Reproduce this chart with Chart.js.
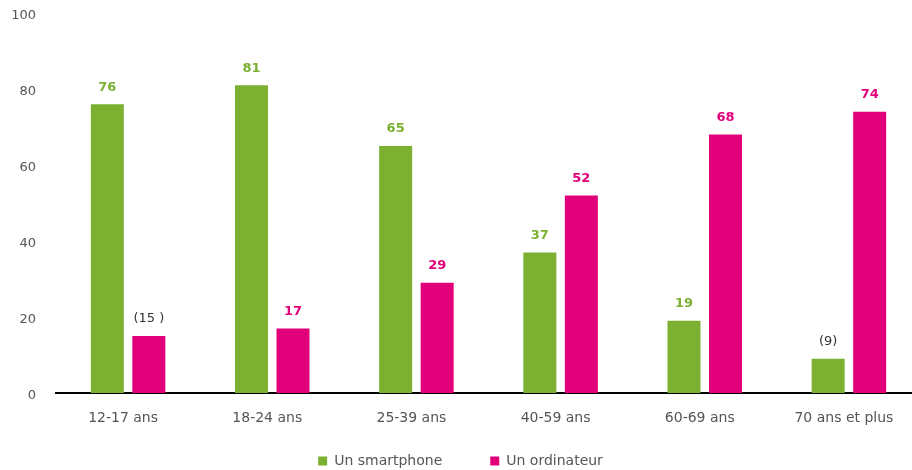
<!DOCTYPE html>
<html>
<head>
<meta charset="utf-8">
<script src="https://cdn.jsdelivr.net/npm/chart.js@4.4.0/dist/chart.umd.min.js"></script>
<style>
  html, body { margin: 0; padding: 0; background: #fff; overflow: hidden; }
  #wrap { width: 921px; height: 470px; }
</style>
</head>
<body>
<div id="wrap"><canvas id="chart" width="921" height="470"></canvas></div>
<script>
// Data
const categories = ['12-17 ans', '18-24 ans', '25-39 ans', '40-59 ans', '60-69 ans', '70 ans et plus'];
const smartphone = [76, 81, 65, 37, 19, 9];
const ordinateur = [15, 17, 29, 52, 68, 74];
// value labels as printed (parentheses = small sample)
const smartphoneLabels = ['76', '81', '65', '37', '19', '(9)'];
const ordinateurLabels = ['(15 )', '17', '29', '52', '68', '74'];
const yTicks = [0, 20, 40, 60, 80, 100];

const GREEN = '#7BB031';
const PINK = '#E2007A';
const FONT = "'DejaVu Sans', Verdana, sans-serif";

// draws the numbers above each bar
const valueLabels = {
  id: 'valueLabels',
  afterDatasetsDraw(chart) {
    const ctx = chart.ctx;
    ctx.save();
    ctx.textAlign = 'center';
    ctx.textBaseline = 'middle';
    chart.data.datasets.forEach((ds, i) => {
      const meta = chart.getDatasetMeta(i);
      meta.data.forEach((bar, j) => {
        const txt = ds.valueText[j];
        if (txt.startsWith('(')) {
          ctx.font = '13px ' + FONT;
          ctx.fillStyle = '#333';
        } else {
          ctx.font = 'bold 13px ' + FONT;
          ctx.fillStyle = ds.backgroundColor;
        }
        ctx.fillText(txt, bar.x, bar.y - 17);
      });
    });
    ctx.restore();
  }
};

new Chart(document.getElementById('chart').getContext('2d'), {
  type: 'bar',
  data: {
    labels: categories,
    datasets: [
      {
        label: 'Un smartphone',
        data: smartphone,
        valueText: smartphoneLabels,
        backgroundColor: GREEN,
        categoryPercentage: 0.576,
        barPercentage: 0.795
      },
      {
        label: 'Un ordinateur',
        data: ordinateur,
        valueText: ordinateurLabels,
        backgroundColor: PINK,
        categoryPercentage: 0.576,
        barPercentage: 0.795
      }
    ]
  },
  options: {
    responsive: false,
    animation: false,
    layout: {
      padding: { top: 13, right: 0, left: 0, bottom: -8 }
    },
    plugins: {
      legend: {
        position: 'bottom',
        labels: {
          boxWidth: 9,
          boxHeight: 9,
          padding: 48,
          color: '#555',
          font: { size: 14, family: FONT }
        }
      },
      tooltip: { enabled: false }
    },
    scales: {
      x: {
        grid: { display: false, drawTicks: false },
        border: { display: true, color: '#000', width: 2 },
        ticks: {
          color: '#555',
          mirror: true,   // avoids the label clip, labels sit below the axis via negative padding
          padding: -34,
          labelOffset: -5,
          autoSkip: false,
          maxRotation: 0,
          minRotation: 0,
          font: { size: 14, family: FONT }
        },
        afterFit(scale) { scale.height = 13; }
      },
      y: {
        min: 0,
        max: 100,
        grid: { display: false, drawTicks: false },
        border: { display: false },
        afterBuildTicks(scale) {
          scale.ticks = yTicks.map(v => ({ value: v }));
        },
        ticks: {
          color: '#555',
          padding: 20,
          labelOffset: 3,
          font: { size: 13, family: FONT }
        },
        afterFit(scale) {
          scale.width = 56;
          scale.paddingTop = 0;
          scale.paddingBottom = 0;
        }
      }
    }
  },
  plugins: [valueLabels]
});
</script>
</body>
</html>
